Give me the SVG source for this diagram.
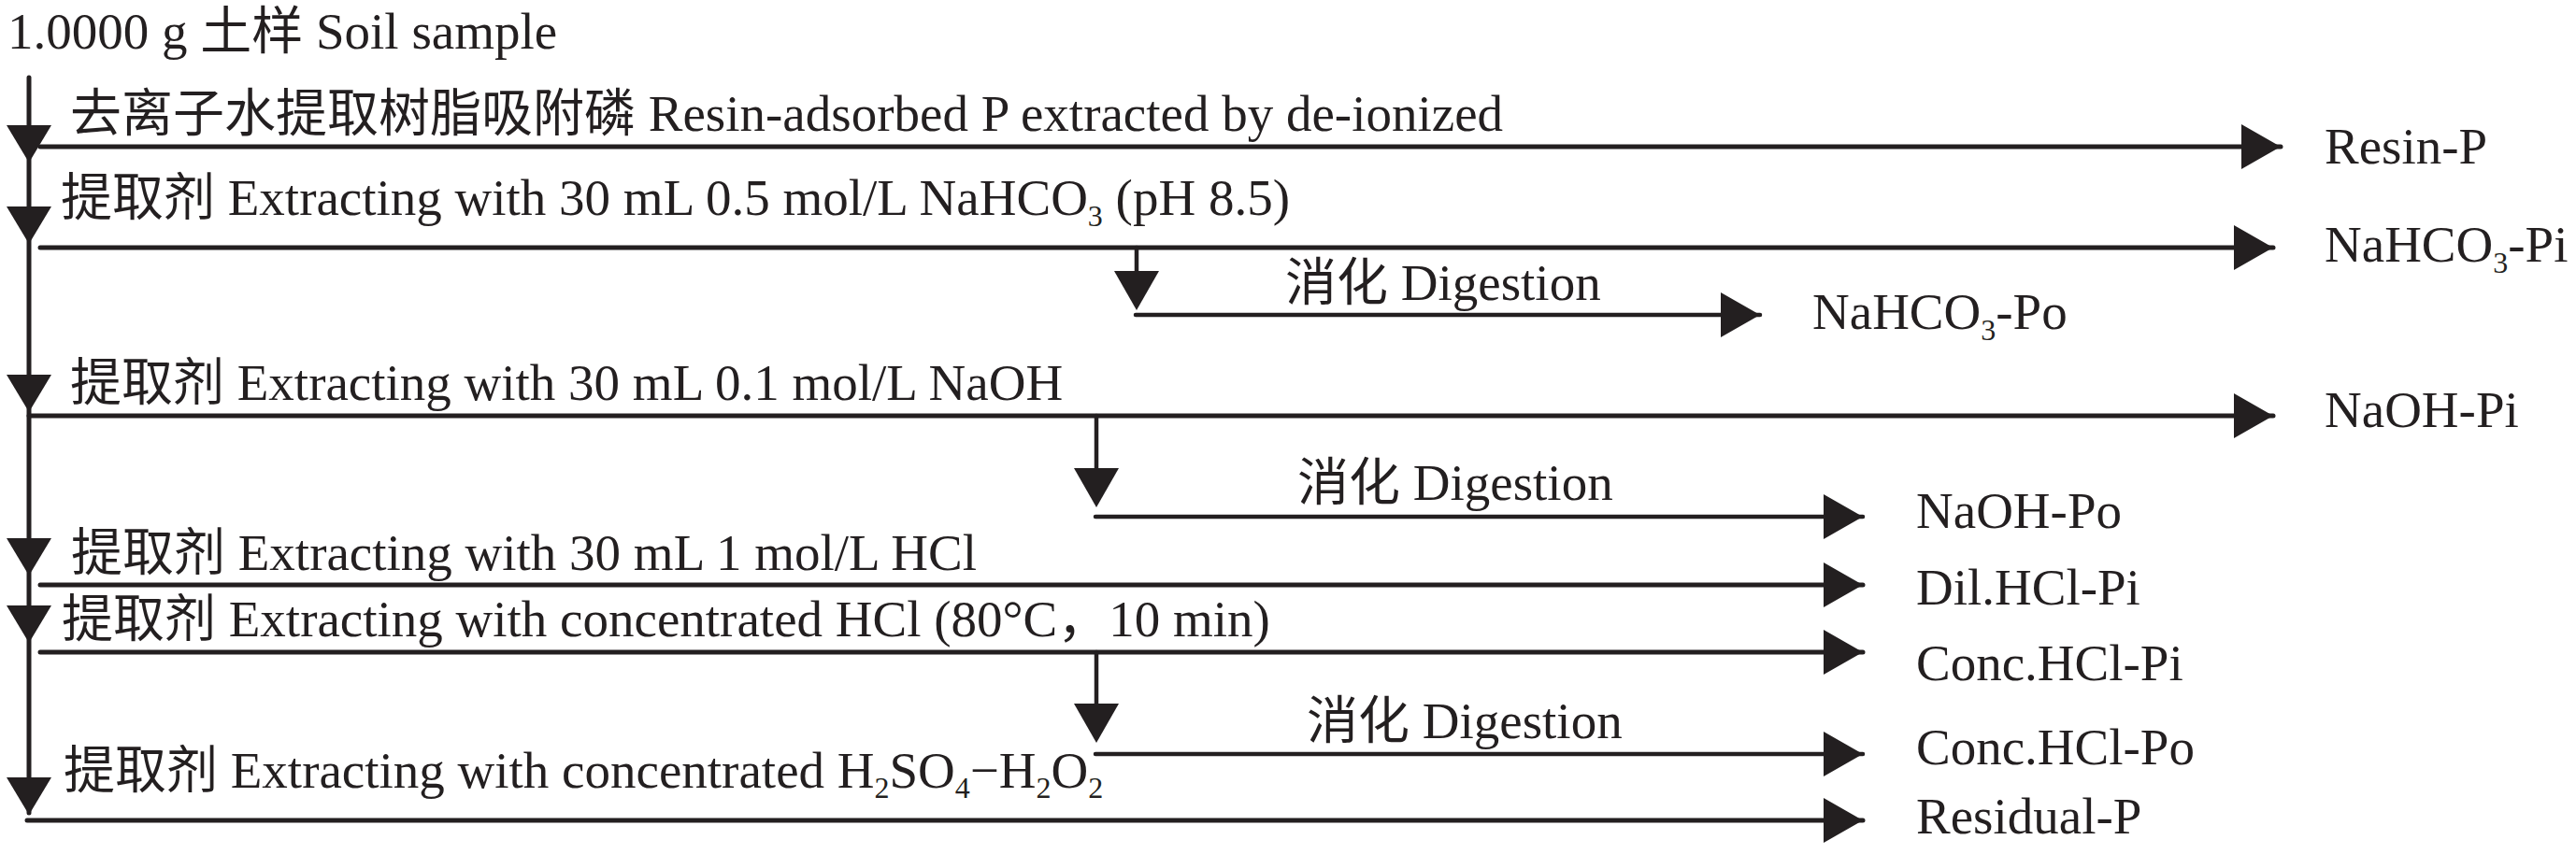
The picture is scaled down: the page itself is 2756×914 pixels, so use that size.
<svg xmlns="http://www.w3.org/2000/svg" xmlns:xlink="http://www.w3.org/1999/xlink" width="2756" height="914" viewBox="0 0 2756 914">
<style>
text { font-family: "Liberation Serif", "Noto Sans CJK SC", serif; font-size: 55px; fill: #231f20; }
.ln { stroke: #231f20; stroke-width: 5; fill: none; stroke-linecap: round; }
.br { stroke: #231f20; stroke-width: 4.5; fill: none; stroke-linecap: round; }
.ah { fill: #231f20; }
</style>
<defs>
<marker id="arr" markerUnits="userSpaceOnUse" markerWidth="44" markerHeight="50" refX="42" refY="24" orient="auto" viewBox="0 0 44 50">
<path d="M0,0 L42,24 L0,48 Z" fill="#231f20"/>
</marker>
<path id="down" d="M-24,0 L24,0 L0,40 Z" class="ah"/>
<path id="downb" d="M-24,0 L24,0 L0,42 Z" class="ah"/>
</defs>
<rect width="2756" height="914" fill="#ffffff"/>

<g id="connectors">
<line class="ln" x1="31" y1="83" x2="31" y2="870"/>
<use xlink:href="#down" x="31" y="134"/>
<use xlink:href="#down" x="31" y="221"/>
<use xlink:href="#down" x="31" y="401"/>
<use xlink:href="#down" x="31" y="576"/>
<use xlink:href="#down" x="31" y="648"/>
<use xlink:href="#down" x="31" y="832"/>
<line class="ln" x1="43" y1="157" x2="2440" y2="157" marker-end="url(#arr)"/>
<line class="ln" x1="43" y1="265" x2="2432" y2="265" marker-end="url(#arr)"/>
<line class="ln" x1="31" y1="445" x2="2432" y2="445" marker-end="url(#arr)"/>
<line class="ln" x1="43" y1="626" x2="1993" y2="626" marker-end="url(#arr)"/>
<line class="ln" x1="43" y1="698" x2="1993" y2="698" marker-end="url(#arr)"/>
<line class="ln" x1="29" y1="878" x2="1993" y2="878" marker-end="url(#arr)"/>
<line class="br" x1="1216" y1="265" x2="1216" y2="300"/>
<use xlink:href="#downb" x="1216" y="290"/>
<line class="br" x1="1215" y1="337" x2="1883" y2="337" marker-end="url(#arr)"/>
<line class="br" x1="1173" y1="445" x2="1173" y2="510"/>
<use xlink:href="#downb" x="1173" y="501"/>
<line class="br" x1="1172" y1="553" x2="1993" y2="553" marker-end="url(#arr)"/>
<line class="br" x1="1173" y1="698" x2="1173" y2="760"/>
<use xlink:href="#downb" x="1173" y="753"/>
<line class="br" x1="1172" y1="807" x2="1993" y2="807" marker-end="url(#arr)"/>
</g>

<g id="n-sample"><text x="8" y="52">1.0000 g 土样 Soil sample</text></g>
<g id="n-step1"><text x="75" y="140">去离子水提取树脂吸附磷 Resin-adsorbed P extracted by de-ionized</text></g>
<g id="n-step2"><text x="65" y="230">提取剂 Extracting with 30 mL 0.5 mol/L NaHCO<tspan font-size="32" dy="12">3</tspan><tspan dy="-12"> (pH 8.5)</tspan></text></g>
<g id="n-step3"><text x="75" y="428">提取剂 Extracting with 30 mL 0.1 mol/L NaOH</text></g>
<g id="n-step4"><text x="76" y="610">提取剂 Extracting with 30 mL 1 mol/L HCl</text></g>
<g id="n-step5"><text x="66" y="681">提取剂 Extracting with concentrated HCl (80°C，10 min)</text></g>
<g id="n-step6"><text x="68" y="843">提取剂 Extracting with concentrated H<tspan font-size="32" dy="11">2</tspan><tspan dy="-11">SO</tspan><tspan font-size="32" dy="11">4</tspan><tspan dy="-11">−H</tspan><tspan font-size="32" dy="11">2</tspan><tspan dy="-11">O</tspan><tspan font-size="32" dy="11">2</tspan></text></g>

<g id="n-dig1"><text x="1375" y="321">消化 Digestion</text></g>
<g id="n-dig2"><text x="1388" y="535">消化 Digestion</text></g>
<g id="n-dig3"><text x="1398" y="790">消化 Digestion</text></g>

<g id="n-resin"><text x="2487" y="175">Resin-P</text></g>
<g id="n-nahco3pi"><text x="2487" y="280">NaHCO<tspan font-size="32" dy="12">3</tspan><tspan dy="-12">-Pi</tspan></text></g>
<g id="n-nahco3po"><text x="1939" y="352">NaHCO<tspan font-size="32" dy="12">3</tspan><tspan dy="-12">-Po</tspan></text></g>
<g id="n-naohpi"><text x="2487" y="457">NaOH-Pi</text></g>
<g id="n-naohpo"><text x="2050" y="565">NaOH-Po</text></g>
<g id="n-dilhcl"><text x="2050" y="647">Dil.HCl-Pi</text></g>
<g id="n-conchclpi"><text x="2050" y="728">Conc.HCl-Pi</text></g>
<g id="n-conchclpo"><text x="2050" y="818">Conc.HCl-Po</text></g>
<g id="n-residual"><text x="2050" y="892">Residual-P</text></g>
</svg>
